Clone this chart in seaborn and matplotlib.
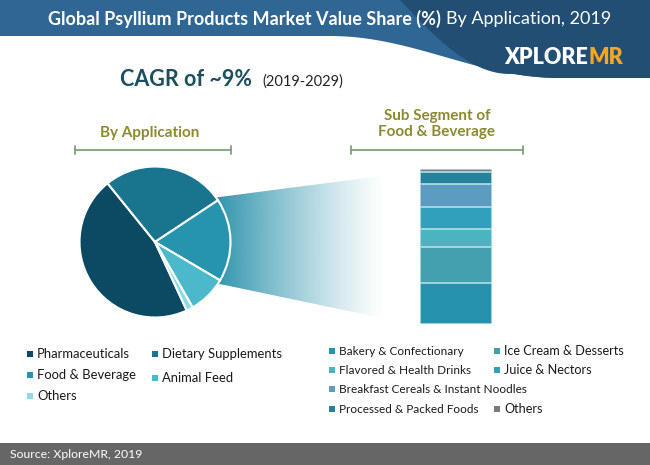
import numpy as np
import matplotlib
matplotlib.use("Agg")
import matplotlib.pyplot as plt
from matplotlib.patches import Polygon, Rectangle
import seaborn as sns

sns.set_theme(style="white")
plt.rcParams["font.family"] = ["Lato", "DejaVu Sans"]

# pie: market share by application (%)
apps = ["Pharmaceuticals", "Dietary Supplements", "Food & Beverage", "Animal Feed", "Others"]
app_share = [46.1, 26.5, 17.8, 8.2, 1.4]
app_colors = ["#0B4A62", "#19748E", "#2794AE", "#4BB9CB", "#8ED9E5"]

# stacked bar: sub segments of food & beverage (%), bottom to top
subs = ["Bakery & Confectionary", "Ice Cream & Desserts", "Flavored & Health Drinks",
        "Juice & Nectors", "Breakfast Cereals & Instant Noodles",
        "Processed & Packed Foods", "Others"]
sub_share = [26.2, 23.8, 11.0, 14.5, 14.7, 7.6, 2.2]
sub_colors = ["#2692AD", "#44A0AF", "#4BB4C1", "#30A0BD", "#5B9CC0", "#24839A", "#7A7A7A"]

W, H = 650, 465
fig = plt.figure(figsize=(W / 100, H / 100), dpi=100)
fig.patch.set_facecolor("white")

bg = fig.add_axes([0, 0, 1, 1])
bg.set_xlim(0, W)
bg.set_ylim(H, 0)
bg.axis("off")

# header band with wave
xs = np.linspace(0, W, 200)
t = np.clip((xs - 330) / 230, 0, 1)
ys = 36 + 42 * (1 - np.cos(np.pi * t)) / 2
band = np.vstack([np.column_stack([xs, ys]), [[W, 0], [0, 0]]])
bg.add_patch(Polygon(band, closed=True, color="#2F6693", lw=0))
t2 = np.linspace(0, 1, 80)
dx = 400 + 110 * t2
dy = 74 * np.sin(np.pi / 2 * t2)
dark = np.vstack([np.column_stack([dx, dy]),
                  np.column_stack([xs[xs > 510], ys[xs > 510]]),
                  [[W, 0]]])
bg.add_patch(Polygon(dark, closed=True, color="#214E72", lw=0))

bg.text(441, 19, "Global Psyllium Products Market Value Share (%)", ha="right",
        va="center", color="white", fontsize=13, fontweight="bold")
bg.text(446, 19, "By Application, 2019", ha="left", va="center",
        color="white", fontsize=13)
bg.text(588, 57, "XPLORE", ha="right", va="center", color="white",
        fontsize=15.5, fontweight="heavy")
bg.text(588, 57, "MR", ha="left", va="center", color="#F5A623",
        fontsize=15.5, fontweight="heavy")

# CAGR
bg.text(120, 80, "CAGR of ~9%", ha="left", va="center", color="#1B4E5E",
        fontsize=15.5, fontweight="bold")
bg.text(262, 82, "(2019-2029)", ha="left", va="center", color="#222222",
        fontsize=10.5)

# section headers and brackets
olive = "#8C8A2E"
bg.text(150, 133, "By Application", ha="center", va="center", color=olive,
        fontsize=11, fontweight="bold")
bg.text(437, 124, "Sub Segment of\nFood & Beverage", ha="center", va="center",
        color=olive, fontsize=11, fontweight="bold", linespacing=1.1)
for x0, x1 in [(75, 231), (351, 523)]:
    bg.plot([x0, x1], [150, 150], color="#7DA07D", lw=1.3)
    for xx in (x0, x1):
        bg.plot([xx, xx], [146, 154], color="#7DA07D", lw=1.3)

# funnel gradient
funnel = Polygon([[212, 198], [420, 171], [420, 326], [215, 283]], closed=True,
                 facecolor="none", edgecolor="none")
bg.add_patch(funnel)
gx = np.linspace(210, 420, 300)
alpha = np.clip(1 - (gx - 215) / 170, 0, 1) ** 1.2
img = np.zeros((2, gx.size, 4))
img[..., :3] = np.array([0x2E, 0x93, 0xAC]) / 255
img[..., 3] = alpha
im = bg.imshow(img, extent=[210, 420, 330, 165], aspect="auto", zorder=1)
im.set_clip_path(funnel)

# pie
cx, cy, r = 155, 242, 77
pax = fig.add_axes([(cx - r) / W, (H - cy - r) / H, 2 * r / W, 2 * r / H])
pax.pie(app_share, colors=app_colors, startangle=-65.1, counterclock=False,
        wedgeprops=dict(edgecolor="white", linewidth=1.5), radius=1)
pax.set_xlim(-1.02, 1.02)
pax.set_ylim(-1.02, 1.02)
pax.set_aspect("equal")
pax.axis("off")

# stacked bar (layered cumulative bars)
bax = fig.add_axes([420 / W, (H - 324) / H, 72 / W, 155 / H])
cum = np.cumsum(sub_share)
for i in range(len(subs) - 1, -1, -1):
    sns.barplot(x=["F&B"], y=[cum[i]], color=sub_colors[i], width=1.0,
                edgecolor="#B5DDE5", linewidth=1.2, saturation=1, ax=bax)
bax.set_xlim(-0.5, 0.5)
bax.set_ylim(0, cum[-1])
bax.axis("off")

# legends
def legend_item(x, y, label, color, fs):
    bg.add_patch(Rectangle((x - 3, y - 3), 6, 6, color=color, lw=0))
    bg.text(x + 7, y, label, ha="left", va="center", color="#1A1A1A", fontsize=fs)

left_pos = [(30, 354), (155, 354), (30, 375), (155, 378), (30, 396)]
for (x, y), lab, col in zip(left_pos, apps, app_colors):
    legend_item(x, y, lab, col, 9.4)

right_pos = [(332, 351), (497, 351), (332, 370), (497, 370), (332, 389),
             (332, 409), (497, 409)]
for (x, y), lab, col in zip(right_pos, subs, sub_colors):
    legend_item(x, y, lab, col, 8.5 if x < 400 else 9.1)

# footer
bg.add_patch(Rectangle((0, 443), W, 22, color="#666666", lw=0))
bg.text(10, 454, "Source: XploreMR, 2019", ha="left", va="center",
        color="white", fontsize=8.8)

fig.savefig("out.png", dpi=100)
